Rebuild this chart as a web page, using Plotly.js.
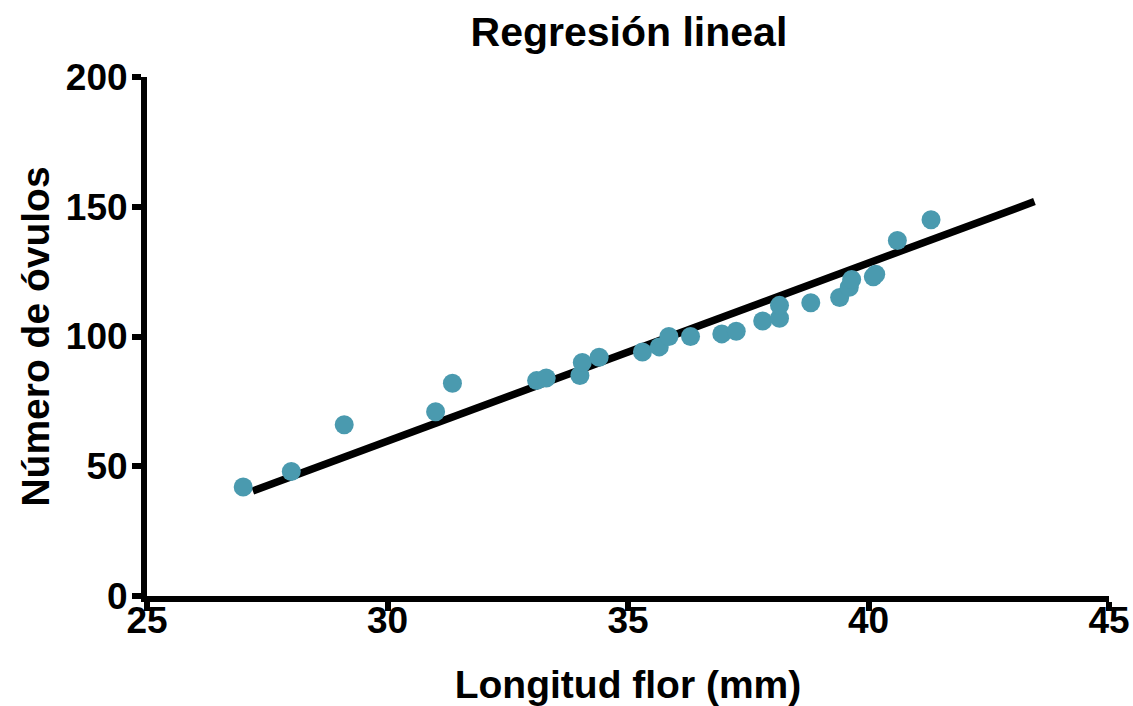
<!DOCTYPE html>
<html>
<head>
<meta charset="utf-8">
<script src="https://cdn.plot.ly/plotly-3.0.1.min.js"></script>
<style>html,body{margin:0;padding:0;background:#fff;}#chart{width:1133px;height:706px;}</style>
</head>
<body>
<div id="chart"></div>
<script>
// Longitud flor (mm)
const longitudFlor = [27.0, 28.0, 29.1, 31.0, 31.35, 33.1, 33.3, 34.0, 34.05, 34.4, 35.3, 35.65, 35.85, 36.3, 36.95, 37.25, 37.8, 38.15, 38.15, 38.8, 39.4, 39.6, 39.65, 40.1, 40.15, 40.6, 41.3];
// Número de óvulos
const numeroOvulos = [42, 48, 66, 71, 82, 83, 84, 85, 90, 92, 94, 96, 100, 100, 101, 102, 106, 107, 112, 113, 115, 119, 122, 123, 124, 137, 145];
// Regression line endpoints
const fitX = [27.2, 43.45];
const fitY = [40.5, 152.0];
const xTicks = [25, 30, 35, 40, 45];
const yTicks = [0, 50, 100, 150, 200];

const FONT = 'Liberation Sans, Arial, Helvetica, sans-serif';

const traces = [
  {
    x: fitX, y: fitY, type: 'scatter', mode: 'lines',
    line: {color: '#000000', width: 7.5},
    hoverinfo: 'skip', showlegend: false
  },
  {
    x: longitudFlor, y: numeroOvulos, type: 'scatter', mode: 'markers',
    marker: {color: '#4a9aaf', size: 19, line: {width: 0}},
    showlegend: false
  }
];

const layout = {
  width: 1133, height: 706,
  paper_bgcolor: '#ffffff', plot_bgcolor: '#ffffff',
  margin: {l: 147, r: 24, t: 77, b: 110},
  font: {family: FONT, color: '#000000'},
  title: {
    text: '<b>Regresión lineal</b>',
    font: {family: FONT, size: 41, color: '#000'},
    x: 0.501, xref: 'paper', xanchor: 'center',
    y: 0.955, yref: 'container', yanchor: 'middle'
  },
  xaxis: {
    range: [25, 45], tickvals: xTicks, ticktext: xTicks.map(v => '<b>' + v + '</b>'),
    showline: true, linecolor: '#000', linewidth: 6,
    ticks: 'outside', ticklen: 9, tickwidth: 6, tickcolor: '#000',
    showgrid: false, zeroline: false,
    ticklabelstandoff: -22,
    tickfont: {family: FONT, size: 37, color: '#000'},
    title: {text: '<b>Longitud flor (mm)</b>', font: {family: FONT, size: 39, color: '#000'}, standoff: 37}
  },
  yaxis: {
    range: [0, 200], tickvals: yTicks, ticktext: yTicks.map(v => '<b>' + v + '</b>'),
    showline: true, linecolor: '#000', linewidth: 6,
    ticks: 'outside', ticklen: 9, tickwidth: 6, tickcolor: '#000',
    showgrid: false, zeroline: false,
    ticklabelstandoff: -3,
    tickfont: {family: FONT, size: 37, color: '#000'},
    title: {text: '<b>Número de óvulos</b>', font: {family: FONT, size: 39, color: '#000'}, standoff: 6}
  }
};

Plotly.newPlot('chart', traces, layout, {displayModeBar: false, staticPlot: true});
</script>
</body>
</html>
